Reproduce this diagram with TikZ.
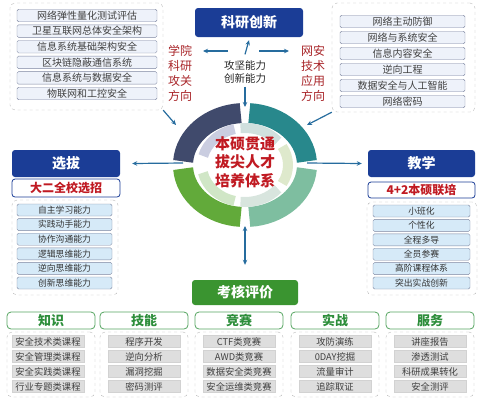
\documentclass[tikz,border=0pt]{standalone}
\usepackage{fontspec}
\setmainfont{Noto Sans CJK SC}
\usetikzlibrary{arrows.meta}

\definecolor{kyblue}{RGB}{27,61,150}
\definecolor{kyred}{RGB}{192,26,34}
\definecolor{darkred}{RGB}{168,36,40}
\definecolor{arrowblue}{RGB}{38,108,158}
\definecolor{khgreen}{RGB}{58,148,48}
\definecolor{hdgreen}{RGB}{44,142,58}
\definecolor{itemblue}{RGB}{214,234,248}
\definecolor{itemgray}{RGB}{222,222,222}
\definecolor{itemtop}{RGB}{238,242,250}
\definecolor{itemline}{RGB}{125,134,160}
\definecolor{ringA}{RGB}{64,74,108}
\definecolor{ringB}{RGB}{40,136,140}
\definecolor{ringC}{RGB}{98,170,58}
\definecolor{ringD}{RGB}{126,190,160}
\definecolor{inA}{RGB}{202,205,224}
\definecolor{inB}{RGB}{208,224,222}
\definecolor{inC}{RGB}{222,233,204}
\definecolor{inD}{RGB}{216,229,222}
\definecolor{inE}{RGB}{208,230,198}

\begin{document}
\begin{tikzpicture}[x=1pt, y=-1pt, >={Stealth[length=5pt,width=4.5pt]},
  titlebox/.style={fill=kyblue, rounded corners=3pt, text=white, inner sep=0pt,
    font=\fontsize{14}{16}\selectfont\bfseries},
  subbox/.style={draw=kyblue, fill=white, rounded corners=3pt, text=kyred, inner sep=0pt,
    line width=0.8pt, font=\fontsize{12}{14}\selectfont\bfseries},
  dbox/.style={draw=gray!55, dashed, rounded corners=5pt, inner sep=0pt},
  topitem/.style={draw=itemline, fill=itemtop, rounded corners=1.5pt, inner sep=0pt,
    text=black!75, font=\fontsize{10}{12}\selectfont, minimum height=12.5pt},
  blueitem/.style={draw=itemline, fill=itemblue, rounded corners=1.5pt, inner sep=0pt,
    text=black!80, font=\fontsize{8.8}{10}\selectfont, minimum height=12pt},
  hdbox/.style={draw=hdgreen!80, fill=white, rounded corners=4pt, text=hdgreen, inner sep=0pt,
    line width=0.8pt, minimum width=88pt, minimum height=17pt,
    font=\fontsize{13}{15}\selectfont\bfseries},
  grayitem/.style={draw=gray!35, fill=itemgray, inner sep=0pt, text=black!75,
    minimum width=72pt, minimum height=12pt, font=\fontsize{9.3}{10}\selectfont},
  redtext/.style={text=darkred, align=center, font=\fontsize{12}{15}\selectfont},
  ring/.style={line width=20pt},
  inring/.style={line width=10pt},
  link/.style={->, arrowblue, line width=1.2pt}]
  \useasboundingbox (0,0) rectangle (484,400);
  % 1. Points
  \coordinate (C) at (245,165);
  \coordinate (rl) at (183,163);
  \coordinate (rr) at (307,163);
  \coordinate (rt) at (245,107);
  \coordinate (rb) at (245,226);
  \coordinate (rtl) at (176,125);
  \coordinate (rtr) at (307,125);
  \coordinate (hl1) at (228,51);
  \coordinate (hl2) at (203,51);
  \coordinate (hr1) at (259,51);
  \coordinate (hr2) at (289,51);
  % 2. Center ring
  \draw[ring, ringA] (C) ++(94:62pt and 52pt) arc[start angle=94, end angle=176, x radius=62pt, y radius=52pt];
  \draw[ring, ringB] (C) ++(4:62pt and 52pt) arc[start angle=4, end angle=86, x radius=62pt, y radius=52pt];
  \draw[ring, ringC] (C) ++(184:62pt and 52pt) arc[start angle=184, end angle=266, x radius=62pt, y radius=52pt];
  \draw[ring, ringD] (C) ++(274:62pt and 52pt) arc[start angle=274, end angle=356, x radius=62pt, y radius=52pt];
  \draw[inring, inA] (C) ++(104:43pt and 37pt) arc[start angle=104, end angle=166, x radius=43pt, y radius=37pt];
  \draw[inring, inB] (C) ++(40:43pt and 37pt) arc[start angle=40, end angle=96, x radius=43pt, y radius=37pt];
  \draw[inring, inC] (C) ++(-30:43pt and 37pt) arc[start angle=-30, end angle=30, x radius=43pt, y radius=37pt];
  \draw[inring, inD] (C) ++(-96:43pt and 37pt) arc[start angle=-96, end angle=-40, x radius=43pt, y radius=37pt];
  \draw[inring, inE] (C) ++(192:43pt and 37pt) arc[start angle=192, end angle=256, x radius=43pt, y radius=37pt];
  \node[text=kyred, align=center, font=\fontsize{15}{18.5}\selectfont\bfseries] (zx) at (245,162) {本硕贯通\\拔尖人才\\培养体系};
  % 3. Top block
  \node[titlebox, minimum width=108pt, minimum height=29pt] (ky) at (249,22.5) {科研创新};
  \node[align=center, text=black!85, font=\fontsize{10.5}{12.5}\selectfont] (nl) at (245,72) {攻坚能力\\创新能力};
  \node[redtext] (xy) at (180,73) {学院\\科研\\攻关\\方向};
  \node[redtext] (wa) at (313,73) {网安\\技术\\应用\\方向};
  \draw[link] ([yshift=3pt]nl.north) -- ([yshift=-3pt]ky.south);
  \draw[link] (nl.south) -- (rt);
  \draw[link] (hl1) -- (hl2);
  \draw[link] (hr1) -- (hr2);
  % 4. Two dashed boxes on top
  \node[dbox, minimum width=153pt, minimum height=107pt] (lbox) at (86.5,56.5) {};
  \foreach \t [count=\i] in {网络弹性量化测试评估, 卫星互联网总体安全架构, 信息系统基础架构安全,
      区块链隐蔽通信系统, 信息系统与数据安全, 物联网和工控安全}
    \node[topitem, minimum width=140pt] (lt\i) at (87,{15.5+15.6*(\i-1)}) {\t};
  \node[dbox, minimum width=143pt, minimum height=109pt] (rbox) at (403.5,57.5) {};
  \foreach \t [count=\i] in {网络主动防御, 网络与系统安全, 信息内容安全,
      逆向工程, 数据安全与人工智能, 网络密码}
    \node[topitem, minimum width=125pt] (rt\i) at (402.5,{21.5+16*(\i-1)}) {\t};
  \draw[link] (lbox.south east) -- (rtl);
  \draw[link] (rbox.south west) -- (rtr);
  % 5. Left block
  \node[titlebox, minimum width=108pt, minimum height=27pt] (xb) at (66,163.5) {选拔};
  \node[subbox, minimum width=108pt, minimum height=18pt] (xz) at (66,188) {大二全校选招};
  \node[dbox, minimum width=106pt, minimum height=95pt] (xbox) at (65,247.5) {};
  \foreach \t [count=\i] in {自主学习能力, 实践动手能力, 协作沟通能力, 逻辑思维能力, 逆向思维能力, 创新思维能力}
    \node[blueitem, minimum width=95pt] (xb\i) at (64.5,{210+14.6*(\i-1)}) {\t};
  \draw[link] (rl) -- ([xshift=12pt]xb.east);
  % 6. Right block
  \node[titlebox, minimum width=107pt, minimum height=27pt] (jx) at (421.5,163.5) {教学};
  \node[subbox, minimum width=107pt, minimum height=16pt] (lp) at (421.5,190) {4+2本硕联培};
  \node[dbox, minimum width=110pt, minimum height=93pt] (jbox) at (422,248.5) {};
  \foreach \t [count=\i] in {小班化, 个性化, 全程多导, 全员参赛, 高阶课程体系, 突出实战创新}
    \node[blueitem, minimum width=97pt] (jx\i) at (421.5,{211+14.4*(\i-1)}) {\t};
  \draw[link] (rr) -- ([xshift=-6pt]jx.west);
  % 7. Bottom block
  \node[fill=khgreen, rounded corners=3pt, text=white, inner sep=0pt, minimum width=106pt,
    minimum height=25pt, font=\fontsize{14}{16}\selectfont\bfseries] (kh) at (245,292.5) {考核评价};
  \draw[link, <->] (rb) -- ([yshift=15pt]kh.north);
  % 8. Five columns
  \node[hdbox] (zs) at (51,320.5) {知识};
  \node[dbox, minimum width=88pt, minimum height=65pt] (zsb) at (51,364.5) {};
  \foreach \t [count=\i] in {安全技术类课程, 安全管理类课程, 安全实践类课程, 行业专题类课程}
    \node[grayitem] (zs\i) at (48,{341.5+15*(\i-1)}) {\t};
  \node[hdbox] (jn) at (144,320.5) {技能};
  \node[dbox, minimum width=88pt, minimum height=65pt] (jnb) at (144,364.5) {};
  \foreach \t [count=\i] in {程序开发, 逆向分析, 漏洞挖掘, 密码测评}
    \node[grayitem] (jn\i) at (144,{341.5+15*(\i-1)}) {\t};
  \node[hdbox] (js) at (239,320.5) {竞赛};
  \node[dbox, minimum width=88pt, minimum height=65pt] (jsb) at (239,364.5) {};
  \foreach \t [count=\i] in {CTF类竞赛, AWD类竞赛, 数据安全类竞赛, 安全运维类竞赛}
    \node[grayitem] (js\i) at (239,{341.5+15*(\i-1)}) {\t};
  \node[hdbox] (sz) at (335,320.5) {实战};
  \node[dbox, minimum width=88pt, minimum height=65pt] (szb) at (335,364.5) {};
  \foreach \t [count=\i] in {攻防演练, 0DAY挖掘, 流量审计, 追踪取证}
    \node[grayitem] (sz\i) at (335,{341.5+15*(\i-1)}) {\t};
  \node[hdbox] (fw) at (430,320.5) {服务};
  \node[dbox, minimum width=88pt, minimum height=65pt] (fwb) at (430,364.5) {};
  \foreach \t [count=\i] in {讲座报告, 渗透测试, 科研成果转化, 安全测评}
    \node[grayitem] (fw\i) at (430,{341.5+15*(\i-1)}) {\t};
\end{tikzpicture}
\end{document}
